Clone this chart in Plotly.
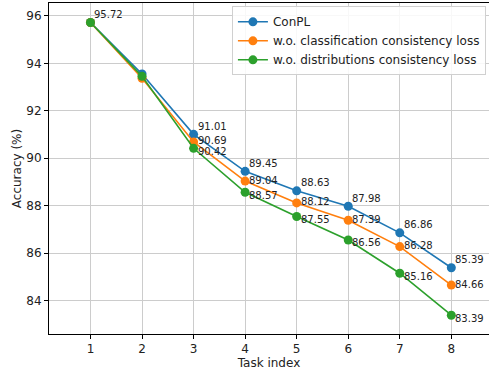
import plotly.graph_objects as go

tasks = [1, 2, 3, 4, 5, 6, 7, 8]
conpl = [95.72, 93.55, 91.01, 89.45, 88.63, 87.98, 86.86, 85.39]
wo_cls = [95.72, 93.37, 90.69, 89.04, 88.12, 87.39, 86.28, 84.66]
wo_dist = [95.72, 93.45, 90.42, 88.57, 87.55, 86.56, 85.16, 83.39]
names = ["ConPL", "w.o. classification consistency loss", "w.o. distributions consistency loss"]
colors = ["#1f77b4", "#ff7f0e", "#2ca02c"]
# which points carry a value label
label_idx = [[0, 2, 3, 4, 5, 6, 7], [2, 3, 4, 5, 6, 7], [2, 3, 4, 5, 6, 7]]
label_yshift = [8, 1, -3]

FONT = "DejaVu Sans"
fig = go.Figure()
series = [conpl, wo_cls, wo_dist]
annotations = []
for s, name, col, idx, ys in zip(series, names, colors, label_idx, label_yshift):
    fig.add_trace(go.Scatter(x=tasks, y=s, name=name, mode="lines+markers",
                             line=dict(color=col, width=1.6),
                             marker=dict(color=col, size=9)))
    for i in idx:
        annotations.append(dict(x=tasks[i], y=s[i], text=f"{s[i]:.2f}", showarrow=False,
                                xanchor="left", yanchor="middle", xshift=2, yshift=ys,
                                font=dict(family=FONT, size=10, color="#222")))

fig.update_layout(
    width=489, height=376,
    margin=dict(l=49, r=0, t=3, b=42),
    paper_bgcolor="white", plot_bgcolor="white",
    font=dict(family=FONT, size=12, color="#222"),
    annotations=annotations,
    showlegend=True,
    legend=dict(x=0.993, y=0.99, xanchor="right", yanchor="top",
                bgcolor="rgba(255,255,255,0.85)", bordercolor="#d0d0d0", borderwidth=1,
                font=dict(family=FONT, size=12, color="#222"),
                tracegroupgap=0, itemwidth=30),
    xaxis=dict(range=[0.195, 8.731], tickvals=tasks, ticktext=[str(t) for t in tasks],
               automargin=False,
               showgrid=True, gridcolor="#cccccc", gridwidth=1,
               showline=True, linecolor="black", linewidth=1, mirror=True,
               ticks="outside", ticklen=4, tickcolor="black", zeroline=False,
               tickfont=dict(size=12),
               title=dict(text="Task index", font=dict(size=12), standoff=2)),
    yaxis=dict(range=[82.60, 96.54], tickvals=[84, 86, 88, 90, 92, 94, 96],
               automargin=False,
               showgrid=True, gridcolor="#cccccc", gridwidth=1,
               showline=True, linecolor="black", linewidth=1,
               ticks="outside", ticklen=4, tickcolor="black", zeroline=False,
               tickfont=dict(size=12),
               title=dict(text="Accuracy (%)", font=dict(size=12), standoff=2)),
)
fig.write_html("out.html", config={"displayModeBar": False},
               post_script="document.body.style.margin='0';document.body.style.overflow='hidden';")
